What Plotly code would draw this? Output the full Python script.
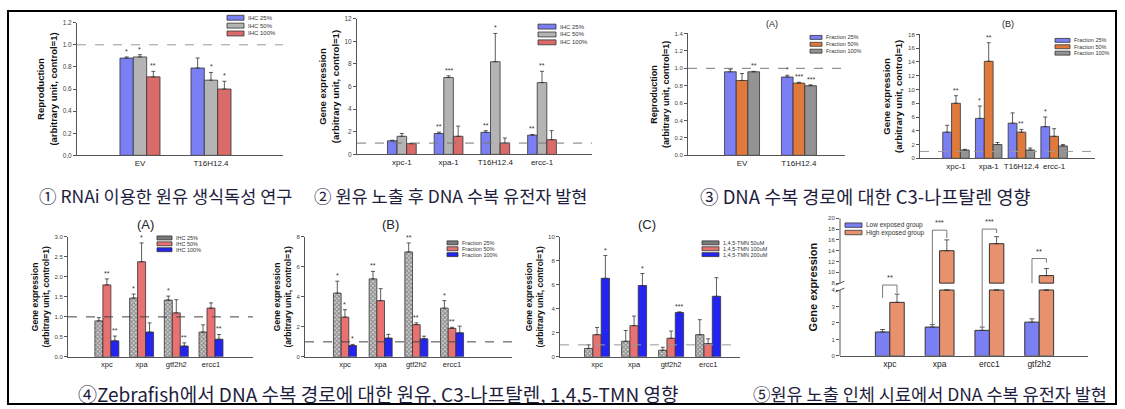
import plotly.graph_objects as go

W, H = 1125, 409
FONT = "Liberation Sans, Arial, sans-serif"
KFONT = "Noto Sans CJK KR, sans-serif"

# ---------------- data ----------------
p1_categories = ["EV", "T16H12.4"]
p1_series = ["IHC 25%", "IHC 50%", "IHC 100%"]
p1_values = [[0.88, 0.79], [0.89, 0.68], [0.71, 0.60]]
p1_errors = [[0.01, 0.09], [0.02, 0.07], [0.05, 0.07]]
p1_stars = [["*", ""], ["*", "*"], ["**", "*"]]

p2_categories = ["xpc-1", "xpa-1", "T16H12.4", "ercc-1"]
p2_series = ["IHC 25%", "IHC 50%", "IHC 100%"]
p2_values = [[1.2, 1.85, 1.95, 1.7], [1.6, 6.8, 8.2, 6.35], [0.95, 1.6, 1.0, 1.3]]
p2_errors = [[0.05, 0.12, 0.15, 0.06], [0.25, 0.15, 2.5, 1.0], [0.03, 0.9, 0.45, 0.8]]
p2_stars = [["", "**", "**", "**"], ["", "***", "*", "**"], ["", "", "", ""]]

p3_categories = ["EV", "T16H12.4"]
p3_series = ["Fraction 25%", "Fraction 50%", "Fraction 100%"]
p3_values = [[0.96, 0.90], [0.86, 0.83], [0.96, 0.80]]
p3_errors = [[0.03, 0.02], [0.08, 0.01], [0.005, 0.01]]
p3_stars = [["", "*"], ["", "***"], ["**", "***"]]

p4_categories = ["xpc-1", "xpa-1", "T16H12.4", "ercc-1"]
p4_series = ["Fraction 25%", "Fraction 50%", "Fraction 100%"]
p4_values = [[3.8, 5.8, 5.1, 4.6], [8.0, 14.1, 3.8, 3.2], [1.2, 2.0, 1.2, 1.8]]
p4_errors = [[1.0, 1.8, 1.5, 1.4], [1.1, 2.7, 0.4, 1.1], [0.1, 0.3, 0.3, 0.2]]
p4_stars = [["", "*", "", "*"], ["**", "**", "**", ""], ["", "", "", ""]]

p5_categories = ["xpc", "xpa", "gtf2h2", "ercc1"]
p5_series = ["IHC 25%", "IHC 50%", "IHC 100%"]
p5_values = [[0.9, 1.47, 1.42, 0.62], [1.8, 2.38, 1.1, 1.22], [0.4, 0.62, 0.27, 0.44]]
p5_errors = [[0.08, 0.1, 0.1, 0.18], [0.15, 0.47, 0.33, 0.13], [0.12, 0.23, 0.08, 0.12]]
p5_stars = [["", "*", "*", ""], ["**", "*", "", ""], ["**", "", "**", "**"]]

p6_categories = ["xpc", "xpa", "gtf2h2", "ercc1"]
p6_series = ["Fraction 25%", "Fraction 50%", "Fraction 100%"]
p6_values = [[4.25, 5.2, 7.0, 3.25], [2.65, 3.75, 2.15, 1.9], [0.75, 1.25, 1.2, 1.6]]
p6_errors = [[0.8, 0.5, 0.6, 0.5], [0.5, 0.8, 0.12, 0.07], [0.08, 0.25, 0.18, 0.45]]
p6_stars = [["*", "**", "**", "*"], ["*", "", "**", "**"], ["*", "", "", ""]]

p7_categories = ["xpc", "xpa", "gtf2h2", "ercc1"]
p7_series = ["1,4,5-TMN 50uM", "1,4,5-TMN 100uM", "1,4,5-TMN 200uM"]
p7_values = [[0.7, 1.3, 0.55, 1.85], [1.85, 2.6, 1.55, 1.1], [6.55, 5.95, 3.7, 5.05]]
p7_errors = [[0.3, 0.9, 0.25, 1.25], [0.6, 0.8, 0.6, 0.4], [1.9, 1.0, 0.05, 1.55]]
p7_stars = [["", "", "", ""], ["", "", "", ""], ["*", "*", "***", ""]]

p8_categories = ["xpc", "xpa", "ercc1", "gtf2h2"]
p8_series = ["Low exposed group", "High exposed group"]
p8_low = [1.45, 1.75, 1.55, 2.05]
p8_low_err = [0.15, 0.15, 0.2, 0.2]
p8_high = [3.25, 14.0, 15.3, 9.4]
p8_high_err = [0.5, 2.0, 1.3, 1.3]
p8_sig = ["**", "***", "***", "**"]
p8_bracket_top = [6.9, 17.8, 18.0, 12.55]
p8_bracket_left = [3.52, 1.79, 1.79, 8.0]
p8_bracket_right = [3.82, 16.35, 17.26, 11.8]
p8_ticks = [0, 1, 2, 3, 4, 8, 10, 12, 14, 16, 18, 20]

captions = [
    "① RNAi 이용한 원유 생식독성 연구",
    "② 원유 노출 후 DNA 수복 유전자 발현",
    "③ DNA 수복 경로에 대한 C3-나프탈렌 영향",
    "④Zebrafish에서 DNA 수복 경로에 대한 원유, C3-나프탈렌, 1,4,5-TMN 영향",
    "⑤원유 노출 인체 시료에서 DNA 수복 유전자 발현",
]

# ---------------- styling ----------------
BLUE = "#7b7ff4"
GRAY = "#b4b4b4"
RED = "#d96b6b"
ORANGE = "#e07a3c"
DGRAY = "#939393"
SALMON = "#e87272"
PBLUE = "#2424f2"
HATCH = "#c8c8c8"
PEACH = "#e8916d"
EDGE = "#333333"

fig = go.Figure()
layout = {}
shapes = []
annotations = []


def xdom(a, b):
    return [a / W, b / W]


def ydom(top, bottom):
    return [1 - bottom / H, 1 - top / H]


def axis_names(n):
    s = "" if n == 1 else str(n)
    return "x" + s, "y" + s, "xaxis" + s, "yaxis" + s


def legend_box(lx, ly, dy, sw, sh, names, colors, fs):
    for j, (nm, c) in enumerate(zip(names, colors)):
        cy = ly + j * dy
        shapes.append(dict(type="rect", xref="paper", yref="paper",
                           x0=lx / W, x1=(lx + sw) / W,
                           y0=1 - (cy + sh / 2) / H, y1=1 - (cy - sh / 2) / H,
                           fillcolor=c, line=dict(color=EDGE, width=0.8)))
        annotations.append(dict(xref="paper", yref="paper", x=(lx + sw + 2) / W, y=1 - cy / H,
                                text=nm, showarrow=False, xanchor="left", yanchor="middle",
                                font=dict(size=fs, family=FONT, color="#333")))


def panel(n, cats, series, values, errors, stars, colors, patterns, bw,
          xpx, ypx, xr, yr, dtick, tfmt, ytitle, tfs, title_fs, cat_fs, dash_color,
          standoff=3):
    xa, ya, xk, yk = axis_names(n)
    ns = len(series)
    for j in range(ns):
        xs = [i + (j - (ns - 1) / 2) * bw for i in range(len(cats))]
        marker = dict(color=colors[j], line=dict(color=EDGE, width=0.8))
        if patterns[j]:
            marker["pattern"] = dict(shape="x", fgcolor="#444444", bgcolor="#d6d6d6",
                                     size=3, solidity=0.6)
        fig.add_trace(go.Bar(
            x=xs, y=values[j], width=bw, name=series[j], marker=marker,
            error_y=dict(type="data", array=errors[j], arrayminus=[0] * len(cats),
                         symmetric=False, color=EDGE, thickness=0.8, width=2),
            xaxis=xa, yaxis=ya, showlegend=False))
        for i, st in enumerate(stars[j]):
            if st:
                annotations.append(dict(xref=xa, yref=ya, x=xs[i], y=values[j][i] + errors[j][i],
                                        text=st, showarrow=False, yanchor="bottom", yshift=0,
                                        font=dict(size=7, family=FONT, color="#333")))
    layout[xk] = dict(domain=xdom(*xpx), range=xr, anchor=ya, showline=True, linecolor="#555",
                      linewidth=1, ticks="", tickvals=list(range(len(cats))), ticktext=cats,
                      tickfont=dict(size=cat_fs, family=FONT, color="#222"),
                      showgrid=False, zeroline=False, fixedrange=True)
    layout[yk] = dict(domain=ydom(*ypx), range=yr, anchor=xa, showline=True, linecolor="#555",
                      linewidth=1, ticks="outside", ticklen=3, tickcolor="#555", dtick=dtick,
                      tickformat=tfmt, tickfont=dict(size=tfs, family=FONT, color="#444"),
                      showgrid=False, zeroline=False, fixedrange=True,
                      title=dict(text=ytitle, standoff=standoff,
                                 font=dict(size=title_fs, family=FONT, color="#111", weight="bold")))
    shapes.append(dict(type="line", xref=xa + " domain", yref=ya, x0=0, x1=1, y0=1, y1=1,
                       line=dict(color=dash_color, width=1, dash="dash")))


T2 = "Reproduction<br>(arbitrary unit, control=1)"
TG = "Gene expression<br>(arbitrary unit, control=1)"

panel(1, p1_categories, p1_series, p1_values, p1_errors, p1_stars, [BLUE, GRAY, RED],
      [False] * 3, 0.188, (77, 283), (19, 154), [-0.887, 2.014], [0, 1.2], 0.2, ".1f",
      T2, 6.5, 9.5, 8, "#9a9a9a")
legend_box(227, 14, 8, 17, 5, p1_series, [BLUE, GRAY, RED], 6)

panel(2, p2_categories, p2_series, p2_values, p2_errors, p2_stars, [BLUE, GRAY, RED],
      [False] * 3, 0.205, (357, 592), (15, 153), [-0.96, 4.07], [0, 12], 2, "",
      TG, 6.5, 9.5, 8, "#777")
legend_box(538, 23, 8, 18, 5, p2_series, [BLUE, GRAY, RED], 6)

panel(3, p3_categories, p3_series, p3_values, p3_errors, p3_stars, [BLUE, ORANGE, DGRAY],
      [False] * 3, 0.205, (688, 845), (30, 154), [-0.95, 1.81], [0, 1.4], 0.2, ".1f",
      T2, 6, 9, 8, "#777")
legend_box(810, 34, 7, 12, 4, p3_series, [BLUE, ORANGE, DGRAY], 5.5)

panel(4, p4_categories, p4_series, p4_values, p4_errors, p4_stars, [BLUE, ORANGE, DGRAY],
      [False] * 3, 0.27, (920, 1095), (31, 157), [-1.1, 4.25], [0, 18], 2, "",
      TG, 6, 9.5, 8, "#9a9a9a")
legend_box(1055, 37, 6.5, 15, 4, p4_series, [BLUE, ORANGE, DGRAY], 5.5)

panel(5, p5_categories, p5_series, p5_values, p5_errors, p5_stars, [HATCH, SALMON, PBLUE],
      [True, False, False], 0.23, (68, 253), (237, 359), [-1.12, 4.21], [0, 3], 0.5, ".1f",
      TG, 6, 8.5, 7.5, "#444")
legend_box(157, 238, 6, 15, 4, p5_series, ["#7a7a7a", SALMON, PBLUE], 5.5)

panel(6, p6_categories, p6_series, p6_values, p6_errors, p6_stars, [HATCH, SALMON, PBLUE],
      [True, False, False], 0.215, (305, 512), (237, 359), [-1.12, 4.68], [0, 8], 2, "",
      TG, 6, 8.5, 7.5, "#444")
legend_box(447, 243, 6, 11, 4, p6_series, ["#7a7a7a", SALMON, PBLUE], 5.5)

panel(7, p7_categories, p7_series, p7_values, p7_errors, p7_stars, [HATCH, SALMON, PBLUE],
      [True, False, False], 0.225, (560, 740), (237, 359), [-1.0, 3.86], [0, 10], 2, "",
      TG, 6, 8.5, 7.5, "#999")
legend_box(702, 243, 6, 17, 4, p7_series, ["#7a7a7a", SALMON, PBLUE], 5.5)

# ---------------- panel 8: broken axis ----------------
GAP = 0.418
HIGH_SCALE = 0.3284


def disp(v):
    if v <= 4:
        return v
    if v < 8:
        return 4 + (v - 4) * GAP / 4
    return 4 + GAP + (v - 8) * HIGH_SCALE


bw8 = 0.29
idx = list(range(len(p8_categories)))
xl = [i - bw8 / 2 for i in idx]
xh = [i + bw8 / 2 for i in idx]
m8 = dict(line=dict(color=EDGE, width=1))
fig.add_trace(go.Bar(x=xl, y=p8_low, width=bw8, name=p8_series[0],
                     marker=dict(color=BLUE, **m8), xaxis="x8", yaxis="y8", showlegend=False,
                     error_y=dict(type="data", array=p8_low_err, arrayminus=[0] * 4, symmetric=False,
                                  color=EDGE, thickness=0.8, width=2.5)))
fig.add_trace(go.Bar(x=xh, y=[min(v, 4) for v in p8_high], width=bw8, name=p8_series[1],
                     marker=dict(color=PEACH, **m8), xaxis="x8", yaxis="y8", showlegend=False,
                     error_y=dict(type="data",
                                  array=[(disp(v + e) - disp(v)) if v <= 4 else 0
                                         for v, e in zip(p8_high, p8_high_err)],
                                  arrayminus=[0] * 4, symmetric=False,
                                  color=EDGE, thickness=0.8, width=2.5)))
upper_idx = [k for k, v in enumerate(p8_high) if v >= 8]
fig.add_trace(go.Bar(x=[xh[k] for k in upper_idx],
                     y=[disp(p8_high[k]) - disp(8) for k in upper_idx],
                     base=[disp(8)] * len(upper_idx), width=bw8, name=p8_series[1],
                     marker=dict(color=PEACH, **m8), xaxis="x8", yaxis="y8", showlegend=False,
                     error_y=dict(type="data",
                                  array=[disp(p8_high[k] + p8_high_err[k]) - disp(p8_high[k])
                                         for k in upper_idx],
                                  arrayminus=[0] * len(upper_idx), symmetric=False,
                                  color=EDGE, thickness=0.8, width=2.5)))
bx, by = [], []
for k in idx:
    bx += [xl[k], xl[k], xh[k], xh[k], None]
    by += [disp(p8_bracket_left[k]), disp(p8_bracket_top[k]), disp(p8_bracket_top[k]),
           disp(p8_bracket_right[k]), None]
    annotations.append(dict(xref="x8", yref="y8", x=k, y=disp(p8_bracket_top[k]), text=p8_sig[k],
                            showarrow=False, yanchor="bottom", yshift=1,
                            font=dict(size=7.5, family=FONT, color="#333")))
fig.add_trace(go.Scatter(x=bx, y=by, mode="lines", line=dict(color="#7a7a7a", width=1),
                         xaxis="x8", yaxis="y8", showlegend=False, hoverinfo="skip"))

layout["xaxis8"] = dict(domain=xdom(840, 1088), range=[-1.0, 3.98], anchor="y8", showline=True,
                        linecolor="#555", linewidth=1, ticks="", tickvals=idx, ticktext=p8_categories,
                        tickfont=dict(size=8.5, family=FONT, color="#222"), showgrid=False,
                        zeroline=False, fixedrange=True)
layout["yaxis8"] = dict(domain=ydom(218, 358), range=[0, disp(20)], anchor="x8", showline=False,
                        ticks="outside", ticklen=3, tickcolor="#555",
                        tickvals=[disp(t) for t in p8_ticks], ticktext=[str(t) for t in p8_ticks],
                        tickfont=dict(size=6, family=FONT, color="#444"), showgrid=False,
                        zeroline=False, fixedrange=True,
                        title=dict(text="Gene expression", standoff=8,
                                   font=dict(size=11, family=FONT, color="#111", weight="bold")))
shapes.append(dict(type="line", xref="x8 domain", yref="y8", x0=0, x1=0, y0=0, y1=4,
                   line=dict(color="#555", width=1)))
shapes.append(dict(type="line", xref="x8 domain", yref="y8", x0=0, x1=0, y0=disp(8), y1=disp(20),
                   line=dict(color="#555", width=1)))
for yb in (4, disp(8)):
    shapes.append(dict(type="line", xref="x8 domain", yref="y8", x0=-0.018, x1=0.018,
                       y0=yb - 0.12, y1=yb + 0.12, line=dict(color="#555", width=1)))
legend_box(845, 225, 7.5, 17, 4.5, p8_series, [BLUE, PEACH], 6.5)

# ---------------- panel titles ----------------
for txt, x, y, fs in [("(A)", 772, 20, 9), ("(B)", 1008, 20, 9),
                      ("(A)", 145, 224, 13), ("(B)", 390, 224, 13), ("(C)", 647, 224, 13)]:
    annotations.append(dict(xref="paper", yref="paper", x=x / W, y=1 - y / H, text=txt,
                            showarrow=False, xanchor="center", yanchor="middle",
                            font=dict(size=fs, family=FONT, color="#222")))

# ---------------- captions ----------------
for txt, x, y, fs in [(captions[0], 165, 195, 17.5), (captions[1], 450, 195, 17.5),
                      (captions[2], 865, 195, 18.5), (captions[3], 378, 396, 19),
                      (captions[4], 930, 396, 17.5)]:
    annotations.append(dict(xref="paper", yref="paper", x=x / W, y=1 - y / H, text=txt,
                            showarrow=False, xanchor="center", yanchor="middle",
                            font=dict(size=fs, family=KFONT, color="#1e1e3c")))

# outer frame
shapes.append(dict(type="rect", xref="paper", yref="paper", x0=8 / W, x1=1116 / W,
                   y0=1 - 407 / H, y1=1 - 7 / H, line=dict(color="black", width=2)))

fig.update_layout(
    width=W, height=H, margin=dict(l=0, r=0, t=0, b=0),
    paper_bgcolor="white", plot_bgcolor="white", barmode="overlay",
    shapes=shapes, annotations=annotations, showlegend=False,
    font=dict(family=FONT), **layout)

fig.write_html("out.html", config={"displayModeBar": False},
               post_script="document.body.style.margin='0px';")
